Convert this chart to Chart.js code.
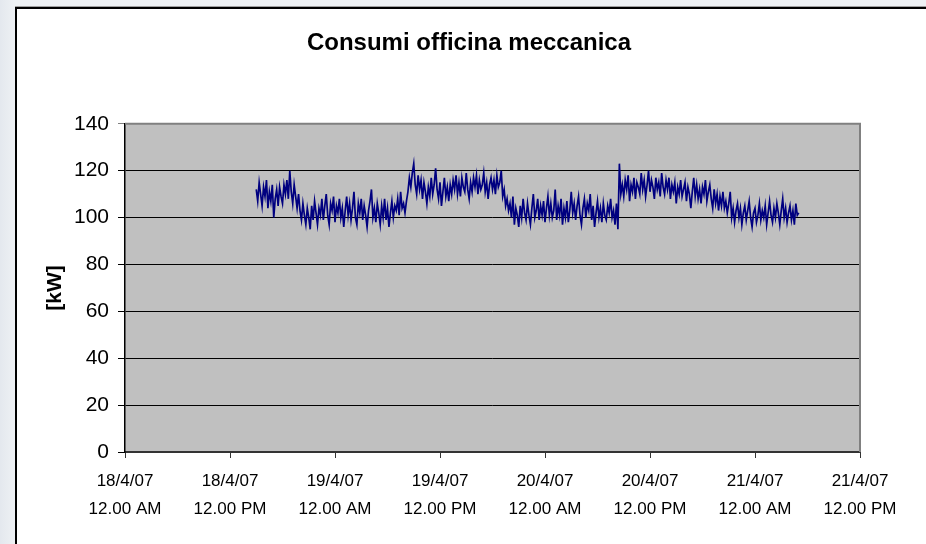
<!DOCTYPE html>
<html>
<head>
<meta charset="utf-8">
<title>Consumi officina meccanica</title>
<script src="https://cdn.jsdelivr.net/npm/chart.js@4.4.1/dist/chart.umd.min.js"></script>
<style>
  html, body { margin: 0; padding: 0; }
  body {
    width: 926px; height: 544px; overflow: hidden; position: relative;
    background: linear-gradient(to right, #e4e8ee 0px, #eef1f4 15px);
  }
  #frame {
    position: absolute; left: 15px; top: 7px; width: 1000px; height: 600px;
    background: #fff;
    border-left: 2px solid #000; border-top: 2px solid #000;
    box-shadow: 0 -1px 0 #a0a0a0;
  }
  #wrap { position: absolute; left: 0; top: 0; width: 938px; height: 544px; }
</style>
</head>
<body>
<div id="frame"></div>
<div id="wrap"><canvas id="consumi"></canvas></div>
<script>
// hours counted from 18/4/07 00:00, one reading every 10 minutes
var startHour = 15;
var stepHours = 1 / 6;

// [kW], 18/4 15:00 -> 21/4 05:00, one row per hour
var consumi = [
    112, 107, 115, 110, 105, 113,
    109, 116, 104, 111, 107, 114,
    100, 108, 112, 105, 113, 109,
    106, 114, 110, 116, 108, 120,
    111, 106, 114, 109, 104, 110,
    103, 99, 106, 101, 97, 104,
    100, 95, 105, 99, 107, 102,
    97, 104, 101, 108, 99, 105,
    110, 101, 97, 106, 103, 109,
    98, 105, 102, 108, 100, 104,
    96, 103, 109, 101, 106, 99,
    104, 111, 100, 97, 106, 102,
    108, 99, 105, 101, 96, 103,
    107, 112, 100, 104, 98, 106,
    102, 97, 105, 100, 108, 99,
    104, 96, 102, 107, 100, 105,
    103, 108, 101, 111, 104, 106,
    102, 107, 111, 117, 113, 119,
    123, 114, 110, 118, 112, 116,
    108, 115, 111, 106, 113, 109,
    117, 110, 114, 121, 112, 108,
    115, 105, 111, 117, 109, 113,
    107, 114, 110, 116, 112, 118,
    110, 115, 109, 117, 113, 111,
    119, 112, 108, 115, 111, 117,
    113, 118, 110, 116, 112, 114,
    119, 111, 115, 108, 114, 117,
    112, 116, 110, 118, 113, 115,
    120, 109, 112, 105, 108, 103,
    106, 100, 109, 97, 104, 101,
    96, 105, 100, 108, 102, 99,
    106, 101, 97, 104, 110, 100,
    103, 108, 99, 105, 101, 107,
    98, 104, 109, 101, 106, 100,
    103, 112, 99, 105, 101, 108,
    97, 104, 100, 107, 98, 103,
    111, 102, 106, 99, 105, 109,
    101, 97, 104, 108, 100, 106,
    103, 110, 99, 105, 96, 102,
    107, 100, 104, 98, 106, 101,
    99, 105, 102, 108, 100, 103,
    97, 106, 95, 123, 110, 114,
    109, 116, 112, 118, 107, 114,
    111, 117, 108, 115, 113, 110,
    119, 112, 116, 109, 114, 120,
    111, 116, 113, 108, 117, 112,
    115, 109, 119, 113, 110, 116,
    112, 117, 108, 114, 111, 115,
    106, 113, 110, 116, 109, 112,
    115, 107, 113, 110, 104, 111,
    117, 109, 114, 108, 112, 106,
    113, 110, 116, 107, 111, 114,
    108, 104, 112, 106, 110, 103,
    109, 105, 111, 104, 107, 102,
    106, 111, 100, 104, 98, 103,
    106, 100, 104, 97, 102, 105,
    99, 103, 107, 100, 96, 102,
    104, 98, 101, 106, 99, 103,
    100, 105, 97, 102, 107, 101,
    98, 104, 100, 106, 102, 97,
    103, 108, 100, 104, 98, 102,
    105, 99, 103, 97, 106, 101,
    102
];

var tickDates = ['18/4/07', '18/4/07', '19/4/07', '19/4/07', '20/4/07', '20/4/07', '21/4/07', '21/4/07'];
var tickTimes = ['12.00 AM', '12.00 PM', '12.00 AM', '12.00 PM', '12.00 AM', '12.00 PM', '12.00 AM', '12.00 PM'];

var points = consumi.map((v, i) => ({ x: startHour + i * stepHours, y: v }));

var plotArea = {
    id: 'plotArea',
    afterLayout: (chart) => {
        // the chart title is centred on the whole box, not on the padded area
        var t = chart.titleBlock;
        if (t) {
            t.left = 78;
            t.width = t.right - t.left;
        }
    },
    beforeDraw: (chart) => {
        var ctx = chart.ctx, a = chart.chartArea;
        ctx.save();
        ctx.fillStyle = '#c0c0c0';
        ctx.fillRect(a.left, a.top, a.right - a.left, a.bottom - a.top);
        ctx.restore();
    },
    afterDraw: (chart) => {
        var ctx = chart.ctx, a = chart.chartArea;
        ctx.save();
        ctx.strokeStyle = '#808080';
        ctx.lineWidth = 2;
        ctx.beginPath();
        ctx.moveTo(a.left, a.top);
        ctx.lineTo(a.right, a.top);
        ctx.lineTo(a.right, a.bottom);
        ctx.stroke();
        ctx.restore();
    }
};

Chart.defaults.font.family = '"Liberation Sans", Arial, sans-serif';
Chart.defaults.color = '#000';

var ctx = document.getElementById('consumi').getContext('2d');
window.consumiChart = new Chart(ctx, {
    type: 'line',
    data: {
        datasets: [{
            label: 'kW',
            data: points,
            borderColor: '#000080',
            borderWidth: 1.7,
            pointRadius: 0,
            tension: 0,
            fill: false
        }]
    },
    options: {
        responsive: true,
        maintainAspectRatio: false,
        animation: false,
        layout: { padding: { left: 43, right: 78, top: 0, bottom: 12 } },
        plugins: {
            legend: { display: false },
            tooltip: { enabled: false },
            title: {
                display: true,
                text: 'Consumi officina meccanica',
                font: { size: 24, weight: 'bold' },
                padding: { top: 29, bottom: 66 }
            }
        },
        scales: {
            x: {
                type: 'linear',
                min: 0,
                max: 84,
                grid: { drawOnChartArea: false, drawTicks: true, tickLength: 6, color: '#333' },
                border: { display: true, color: '#333', width: 2 },
                ticks: {
                    stepSize: 12,
                    autoSkip: false,
                    maxRotation: 0,
                    padding: 9,
                    font: { size: 17, lineHeight: '28px' },
                    callback: (value) => [tickDates[value / 12], tickTimes[value / 12]]
                }
            },
            y: {
                min: 0,
                max: 140,
                afterFit: (scale) => { scale.width = 82; },
                title: {
                    display: true,
                    text: '[kW]',
                    font: { size: 21, weight: 'bold' },
                    padding: 0
                },
                grid: {
                    tickLength: 7,
                    color: (c) => c.tick && c.tick.value === 140 ? '#808080' : '#000'
                },
                border: { display: true, color: '#000', width: 1.5 },
                ticks: {
                    stepSize: 20,
                    padding: 9,
                    font: { size: 21 }
                }
            }
        }
    },
    plugins: [plotArea]
});
</script>
</body>
</html>
